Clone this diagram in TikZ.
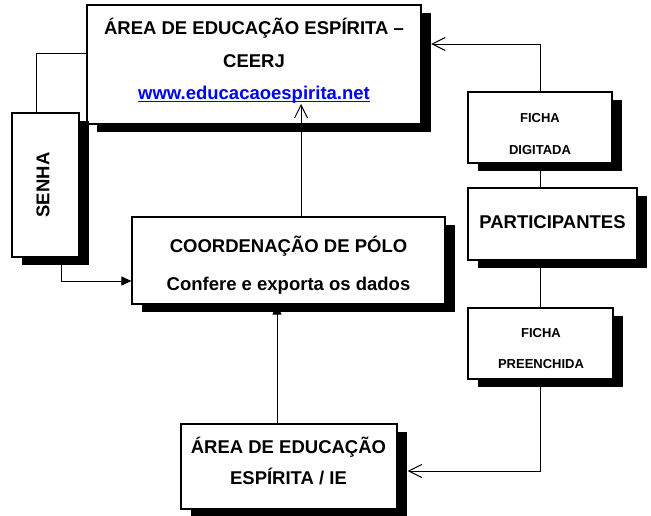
\documentclass[tikz,border=0pt]{standalone}
\usepackage{fontspec}
\setmainfont{Liberation Sans}
\usetikzlibrary{arrows.meta,shadows,calc}
\definecolor{urlblue}{RGB}{0,0,255}
\newcommand{\ulurl}[1]{\setbox0\hbox{#1}\rlap{\rule[-2.2pt]{\wd0}{1.2pt}}\box0}
\pgfdeclarelayer{bg}
\pgfsetlayers{bg,main}
\begin{document}
\begin{tikzpicture}[x=1pt,y=-1pt,
  box/.style={draw=black,line width=1.2pt,fill=white,rectangle,inner sep=0pt,
     general shadow={fill=black,shadow xshift=10pt,shadow yshift=-8pt}},
  big/.style={font=\bfseries\fontsize{18.5}{32.5}\selectfont,align=center,inner sep=0pt},
  small/.style={font=\bfseries\fontsize{13}{31.5}\selectfont,align=center,inner sep=0pt},
  conn/.style={line width=1pt},
  openarr/.style={-{Straight Barb[length=13pt,width=13pt,line width=1pt]}},
  fillarr/.style={-{Triangle[length=10pt,width=9pt]}},
]
\useasboundingbox (0,0) rectangle (651,515);

\node[box,minimum width=334pt,minimum height=119pt] (ceerj) at (254,64.5) {};
\node[box,minimum width=67pt,minimum height=144pt] (senha) at (45.5,185) {};
\node[box,minimum width=313pt,minimum height=87pt] (coord) at (288.5,260.5) {};
\node[box,minimum width=144pt,minimum height=71pt] (fd) at (540,127.5) {};
\node[box,minimum width=169pt,minimum height=72pt] (part) at (552.5,224) {};
\node[box,minimum width=145pt,minimum height=71pt] (fp) at (540.5,343.5) {};
\node[box,minimum width=216pt,minimum height=85pt] (ie) at (289,466.5) {};

% texts
\node[big] (tceerj) at (254,61) {ÁREA DE EDUCAÇÃO ESPÍRITA –\\CEERJ\\\textcolor{urlblue}{\ulurl{www.educacaoespirita.net}}};
\node[big,rotate=90] (tsenha) at (43,185) {SENHA};
\node[big,font=\bfseries\fontsize{18.5}{37.5}\selectfont] (tcoord) at (288.5,265) {COORDENAÇÃO DE PÓLO\\Confere e exporta os dados};
\node[small] (tfd) at (540,134) {FICHA\\DIGITADA};
\node[big] (tpart) at (552.5,221.7) {PARTICIPANTES};
\node[small] (tfp) at (541,348.7) {FICHA\\PREENCHIDA};
\node[big,font=\bfseries\fontsize{18.5}{31.7}\selectfont] (tie) at (288.5,461) {ÁREA DE EDUCAÇÃO\\ESPÍRITA / IE};

\coordinate (ceerjin) at (301,104);

% connectors behind the boxes
\begin{pgfonlayer}{bg}
\draw[conn] ([yshift=11.5pt]ceerj.west) -| ([xshift=-9.5pt]senha.north);
\draw[conn,fillarr] ([xshift=15.5pt]senha.south) |- ([yshift=-20.5pt]coord.west);
\draw[conn,openarr] (fd.north) |- ([xshift=9.5pt,yshift=20.5pt]ceerj.east);
\draw[conn] (fd.south) -- (fd.south |- part.north);
\draw[conn] (fp.north |- part.south) -- (fp.north);
\draw[conn,openarr] (fp.south) |- ([xshift=10pt,yshift=-4.5pt]ie.east);
\draw[conn,fillarr] ([xshift=-12pt]ie.north) -- ([xshift=-12pt]ie.north |- coord.south);
\end{pgfonlayer}
% connector drawn over the top box
\draw[conn,openarr] ([xshift=12.5pt]coord.north) -- (ceerjin);
\end{tikzpicture}
\end{document}
